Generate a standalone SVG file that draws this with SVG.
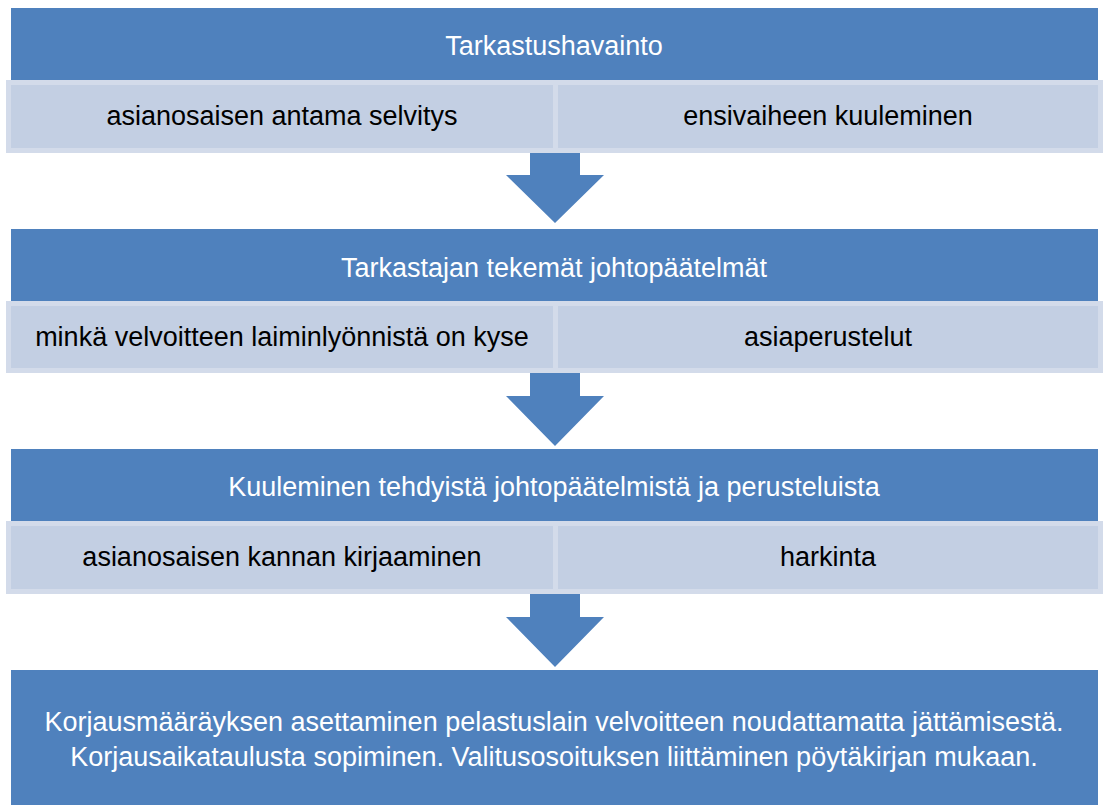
<svg xmlns="http://www.w3.org/2000/svg" width="1103" height="805" viewBox="0 0 1103 805">
<style>
.bar{fill:#4f81bd}
.sub{fill:#c3cfe3;stroke:#d3dbea;stroke-width:5}
.arrow{fill:#4f81bd}
text{font-family:"Liberation Sans",Arial,sans-serif;font-size:27px;text-anchor:middle}
.w{fill:#ffffff}
.k{fill:#000000}
</style>
<rect width="1103" height="805" fill="#ffffff"/>
<g id="n1"><rect class="bar" x="11" y="8" width="1087" height="73"/><text class="w" x="554" y="55">Tarkastushavainto</text></g>
<g id="n1a"><rect class="sub" x="8.5" y="82.5" width="547" height="68"/><text class="k" x="282" y="125">asianosaisen antama selvitys</text></g>
<g id="n1b"><rect class="sub" x="555.5" y="82.5" width="545" height="68"/><text class="k" x="828" y="125">ensivaiheen kuuleminen</text></g>
<g id="n2"><rect class="bar" x="11" y="229" width="1087" height="73"/><text class="w" x="554" y="277">Tarkastajan tekemät johtopäätelmät</text></g>
<g id="n2a"><rect class="sub" x="8.5" y="303.5" width="547" height="67"/><text class="k" x="282" y="346">minkä velvoitteen laiminlyönnistä on kyse</text></g>
<g id="n2b"><rect class="sub" x="555.5" y="303.5" width="545" height="67"/><text class="k" x="828" y="346">asiaperustelut</text></g>
<g id="n3"><rect class="bar" x="11" y="449" width="1087" height="73"/><text class="w" x="554" y="496">Kuuleminen tehdyistä johtopäätelmistä ja perusteluista</text></g>
<g id="n3a"><rect class="sub" x="8.5" y="523.5" width="547" height="68"/><text class="k" x="282" y="566">asianosaisen kannan kirjaaminen</text></g>
<g id="n3b"><rect class="sub" x="555.5" y="523.5" width="545" height="68"/><text class="k" x="828" y="566">harkinta</text></g>
<g id="n4"><rect class="bar" x="11" y="670" width="1087" height="140"/><text class="w" x="554" y="731">Korjausmääräyksen asettaminen pelastuslain velvoitteen noudattamatta jättämisestä.</text><text class="w" x="554" y="766">Korjausaikataulusta sopiminen. Valitusosoituksen liittäminen pöytäkirjan mukaan.</text></g>
<g id="connectors">
<polygon class="arrow" points="530,153 580,153 580,175 604,175 555,223 506,175 530,175"/>
<polygon class="arrow" points="530,373 580,373 580,396 604,396 555,446 506,396 530,396"/>
<polygon class="arrow" points="530,594 580,594 580,617 604,617 555,667 506,617 530,617"/>
</g>
</svg>
